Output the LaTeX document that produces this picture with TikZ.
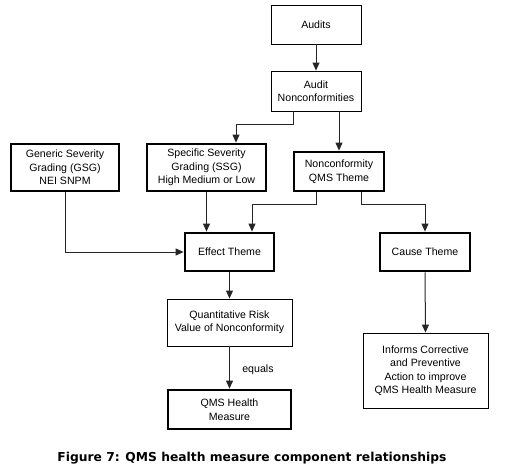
\documentclass[tikz,border=0pt]{standalone}
\usepackage{fontspec}
\setmainfont{Liberation Sans}
\newfontfamily\capfont{DejaVu Sans}
\usetikzlibrary{arrows.meta}
\begin{document}
\begin{tikzpicture}[x=1pt,y=-1pt,
  box/.style={draw=black,line width=0.9pt,align=center,inner sep=0pt,
    font=\fontsize{10.6}{13.5}\selectfont},
  thickbox/.style={box,line width=2.8pt},
  conn/.style={draw=black!85,line width=1pt,-{Triangle[length=8pt,width=7pt]}},
  plain/.style={draw=black!85,line width=1pt}]
\useasboundingbox (0,0) rectangle (512,466);
\node[box,minimum width=90,minimum height=39] (audits) at (316,24.5) {Audits};
\node[box,minimum width=90,minimum height=40] (an) at (316,91) {Audit\\Nonconformities};
\node[thickbox,minimum width=108,minimum height=47] (gsg) at (65,167.5) {Generic Severity\\Grading (GSG)\\NEI SNPM};
\node[thickbox,minimum width=119,minimum height=47] (ssg) at (206.5,167.5) {Specific Severity\\Grading (SSG)\\High Medium or Low};
\node[thickbox,minimum width=90,minimum height=39] (nqt) at (339,171.5) {Nonconformity\\QMS Theme};
\node[thickbox,minimum width=89,minimum height=38] (effect) at (229.5,252) {Effect Theme};
\node[thickbox,minimum width=90,minimum height=38] (cause) at (425,252) {Cause Theme};
\node[box,minimum width=125,minimum height=47] (qrv) at (229.5,322.5) {Quantitative Risk\\Value of Nonconformity};
\node[thickbox,minimum width=123,minimum height=39] (qms) at (229.5,409.5) {QMS Health\\Measure};
\node[box,minimum width=125,minimum height=75] (informs) at (425.5,370.5) {Informs Corrective\\and Preventive\\Action to improve\\QMS Health Measure};
\node[font=\capfont\bfseries\fontsize{12.3}{14}\selectfont,inner sep=0pt] (cap) at (252,458) {Figure 7: QMS health measure component relationships};
\coordinate (a1) at (293,124);
\coordinate (n1) at (316,204);
\coordinate (n2) at (361,204);
\draw[conn] (audits.south) -- (an.north);
\draw[conn] (an.south -| a1) -- (a1) -| (ssg.north -| 236,0);
\draw[conn] (an.south -| nqt.north) -- (nqt.north);
\draw[conn] (gsg.south) |- (effect.west);
\draw[conn] (ssg.south) -- (ssg.south |- effect.north);
\draw[conn] (nqt.south -| n1) -- (n1) -| (effect.north -| 252,0);
\draw[conn] (nqt.south -| n2) -- (n2) -| (cause.north);
\draw[conn] (effect.south) -- (qrv.north);
\draw[conn] (qrv.south) -- node[right=9pt,font=\fontsize{10.6}{13}\selectfont,pos=0.55] (eq) {equals} (qms.north);
\draw[conn] (cause.south) -- (informs.north);
\end{tikzpicture}
\end{document}
